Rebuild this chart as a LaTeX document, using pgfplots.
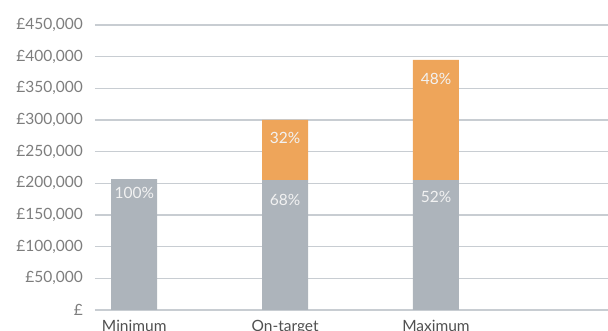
\documentclass[border=0pt]{standalone}
\usepackage{pgfplots}
\pgfplotsset{compat=1.18}
\usepackage{fontspec}
\setmainfont{Lato}
\definecolor{barg}{RGB}{173,180,187}
\definecolor{baro}{RGB}{238,165,90}
\definecolor{gridc}{RGB}{200,205,210}
\definecolor{tickc}{RGB}{125,125,125}
\definecolor{labc}{RGB}{80,80,80}
\definecolor{pctc}{RGB}{242,242,242}
\tikzset{pct/.style={text=pctc, font=\fontsize{15.5}{15.5}\selectfont, anchor=north, inner sep=0pt}}
\begin{document}
\begin{tikzpicture}
\begin{axis}[
  scale only axis, width=513pt, height=285pt,
  xmin=-0.26, xmax=3.14, ymin=0, ymax=450000,
  ybar stacked, bar width=46pt,
  axis x line*=bottom, axis y line*=left,
  y axis line style={draw=none},
  x axis line style={gridc, line width=1.5pt},
  major tick length=0pt,
  ymajorgrids, grid style={gridc, line width=1.5pt},
  ytick={0,50000,100000,150000,200000,250000,300000,350000,400000,450000},
  yticklabels={{£},{£50,000},{£100,000},{£150,000},{£200,000},{£250,000},{£300,000},{£350,000},{£400,000},{£450,000}},
  yticklabel style={tickc, font=\fontsize{15.5}{15.5}\selectfont, inner sep=0pt, anchor=east, xshift=-12pt},
  xtick={0,1,2},
  xticklabels={Minimum,On-target,Maximum},
  xticklabel style={labc, font=\fontsize{15.5}{15.5}\selectfont, inner sep=0pt, anchor=north, yshift=-10pt},
  scaled y ticks=false,
  clip=false,
]
\coordinate (O) at (rel axis cs:0,0);
\addplot[fill=barg, draw=none] coordinates {(0,206500) (1,205000) (2,205000)};
\addplot[fill=baro, draw=none] coordinates {(0,0) (1,95000) (2,190000)};
\coordinate (p1) at (axis cs:0,206500);
\coordinate (p2) at (axis cs:1,205000);
\coordinate (p3) at (axis cs:2,205000);
\coordinate (p4) at (axis cs:1,300000);
\coordinate (p5) at (axis cs:2,395000);
\end{axis}
\node[pct, yshift=-8pt] at (p1) {100\%};
\node[pct, yshift=-14pt] at (p2) {68\%};
\node[pct, yshift=-11pt] at (p3) {52\%};
\node[pct, yshift=-12pt] at (p4) {32\%};
\node[pct, yshift=-13pt] at (p5) {48\%};
\pgfresetboundingbox
\path (O) ++(-95pt,-21pt) rectangle ++(608pt,331pt);
\end{tikzpicture}
\end{document}
